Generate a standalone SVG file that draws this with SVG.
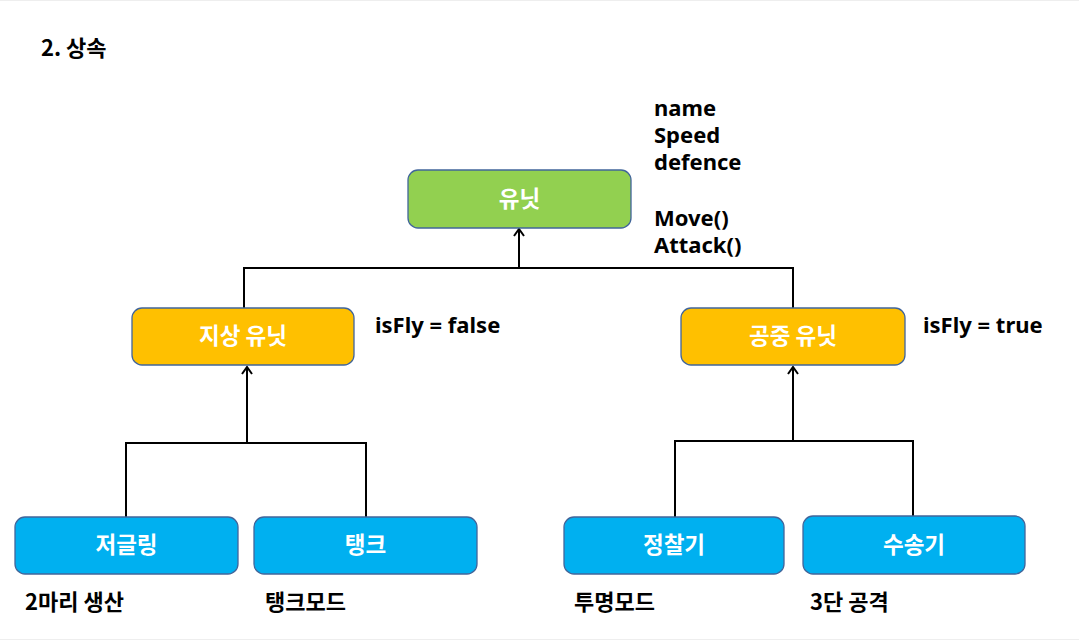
<svg xmlns="http://www.w3.org/2000/svg" width="1079" height="641" viewBox="0 0 1079 641">
<style>
.box{stroke:#41659a;stroke-width:1.3}
.g{fill:#92D050}.o{fill:#FFC000}.b{fill:#00B0F0}
.lbl{font-family:"Noto Sans CJK KR","Noto Sans",sans-serif;font-weight:bold;font-size:22.5px;fill:#fff;text-anchor:middle}
.t{font-family:"Noto Sans","Noto Sans CJK KR",sans-serif;font-weight:bold;font-size:22px;fill:#000}
.k{font-family:"Noto Sans CJK KR","Noto Sans",sans-serif;font-weight:bold;font-size:22px;fill:#000}
.c{fill:none;stroke:#000;stroke-width:2}
</style>
<defs>
<marker id="arr" viewBox="0 0 12 12" refX="10" refY="6" markerWidth="12" markerHeight="12" markerUnits="userSpaceOnUse" orient="auto">
<path d="M3,1 L10,6 L3,11" fill="none" stroke="#000" stroke-width="2"/>
</marker>
</defs>
<rect x="0" y="0" width="1079" height="641" fill="#fff"/>
<line x1="0" y1="0.5" x2="1079" y2="0.5" stroke="#eee"/>
<line x1="0" y1="639.5" x2="1079" y2="639.5" stroke="#eee"/>
<text class="k" x="41" y="56" font-size="22.5">2. 상속</text>
<g id="connectors">
<path class="c" d="M244,308 V268 H793 V308"/>
<line class="c" x1="519" y1="268" x2="519" y2="229" marker-end="url(#arr)"/>
<path class="c" d="M126,517 V443 H366 V517"/>
<line class="c" x1="247" y1="443" x2="247" y2="367" marker-end="url(#arr)"/>
<path class="c" d="M675,517 V441 H913 V516"/>
<line class="c" x1="793" y1="441" x2="793" y2="367" marker-end="url(#arr)"/>
</g>
<g id="unit">
<rect class="box g" x="408" y="170" width="223" height="58" rx="10"/>
<text class="lbl" x="519.5" y="207">유닛</text>
</g>
<g id="unit-attrs">
<text class="t" x="654" y="116">name</text>
<text class="t" x="654" y="143">Speed</text>
<text class="t" x="654" y="170">defence</text>
<text class="t" x="654" y="226">Move()</text>
<text class="t" x="654" y="253">Attack()</text>
</g>
<g id="ground">
<rect class="box o" x="132" y="308" width="222" height="57" rx="10"/>
<text class="lbl" x="243" y="344">지상 유닛</text>
<text class="t" x="375" y="333">isFly = false</text>
</g>
<g id="air">
<rect class="box o" x="681" y="308" width="224" height="57" rx="10"/>
<text class="lbl" x="793" y="344">공중 유닛</text>
<text class="t" x="923" y="333">isFly = true</text>
</g>
<g id="zergling">
<rect class="box b" x="15" y="517" width="223" height="57" rx="10"/>
<text class="lbl" x="126.5" y="553">저글링</text>
<text class="k" x="25" y="610">2마리 생산</text>
</g>
<g id="tank">
<rect class="box b" x="254" y="517" width="223" height="57" rx="10"/>
<text class="lbl" x="365.5" y="553">탱크</text>
<text class="k" x="265" y="610">탱크모드</text>
</g>
<g id="scout">
<rect class="box b" x="564" y="517" width="220" height="57" rx="10"/>
<text class="lbl" x="674" y="553">정찰기</text>
<text class="k" x="574" y="610">투명모드</text>
</g>
<g id="transport">
<rect class="box b" x="803" y="516" width="222" height="58" rx="10"/>
<text class="lbl" x="914" y="553">수송기</text>
<text class="k" x="810" y="610">3단 공격</text>
</g>
</svg>
